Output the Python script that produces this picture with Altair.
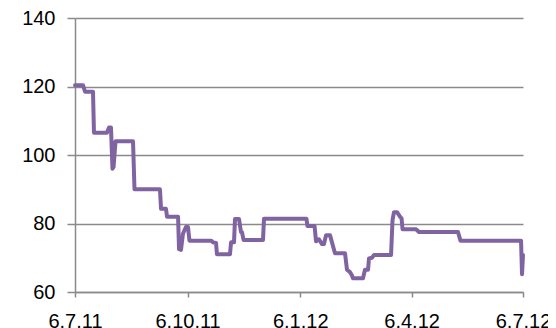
import altair as alt
import pandas as pd

# day offsets from 6.7.2011 and index values
days = [0, 6.5, 8.2, 14.7, 15.5, 26.1, 27.8, 29.4, 30.6, 31.5, 33.1, 47.4, 48.6,
        69.4, 70.3, 74.3, 75.2, 84.2, 85.0, 86.6, 88.2, 90.7, 92.3, 93.5,
        111.1, 112.7, 115.2, 116.0, 126.6, 127.5, 129.9, 130.7, 134.0, 135.6,
        136.4, 137.7, 153.6, 154.4, 189.1, 189.9, 195.7, 196.9, 199.3, 201.8,
        203.4, 205.1, 208.3, 212.4, 220.6, 222.2, 224.7, 226.3, 227.1, 235.3,
        236.9, 239.4, 240.2, 242.6, 244.3, 258.2, 259.4, 260.6, 263.1, 265.5,
        266.8, 267.6, 278.6, 281.0, 312.9, 314.9, 364.4, 365.2, 366.0]
values = [120.4, 120.4, 118.5, 118.5, 106.5, 106.5, 108.0, 108.0, 96.0, 96.5, 104.0, 104.0, 90.0,
          90.0, 84.3, 84.3, 82.0, 82.0, 72.5, 72.3, 77.0, 79.0, 79.0, 75.0,
          75.0, 74.5, 74.3, 71.0, 71.0, 74.5, 74.5, 81.3, 81.3, 77.5,
          77.5, 75.2, 75.2, 81.4, 81.4, 79.3, 79.3, 74.8, 75.4, 74.0,
          74.0, 76.6, 76.6, 71.3, 71.3, 66.5, 65.8, 64.8, 64.0, 64.0,
          66.5, 66.5, 69.8, 70.0, 70.8, 70.8, 81.0, 83.3, 83.3, 82.0,
          81.5, 78.3, 78.3, 77.5, 77.5, 75.0, 75.0, 65.2, 70.8]

tick_days = [0, 92, 184, 275, 366]
tick_labels = ["6.7.11", "6.10.11", "6.1.12", "6.4.12", "6.7.12"]
y_ticks = [60, 80, 100, 120, 140]

df = pd.DataFrame({"day": days, "value": values})

label_expr = "[" + ",".join(f"'{t}'" for t in tick_labels) + "][indexof([" + \
    ",".join(str(d) for d in tick_days) + "], datum.value)]"

grey = "#8a8a8a"
font = "Liberation Sans"

chart = alt.Chart(df).mark_line(
    color="#8064A2", strokeWidth=4, strokeJoin="round", strokeCap="round", clip=False
).encode(
    x=alt.X("day:Q", scale=alt.Scale(domain=[0, 366], nice=False, zero=False),
            axis=alt.Axis(values=tick_days, labelExpr=label_expr, title=None, grid=False,
                          domainColor=grey, domainWidth=1.5, tickColor=grey, tickWidth=1.5,
                          tickSize=5, labelPadding=14, labelFont=font, labelFontSize=20,
                          labelColor="#000000", labelFlush=False, labelOverlap=False)),
    y=alt.Y("value:Q", scale=alt.Scale(domain=[60, 140], nice=False, zero=False),
            axis=alt.Axis(values=y_ticks, title=None, grid=True, gridColor=grey, gridWidth=1.5,
                          domainColor=grey, domainWidth=1.5, tickColor=grey, tickWidth=1.5,
                          tickSize=8, labelPadding=12, labelFont=font, labelFontSize=20,
                          labelColor="#000000")),
).properties(
    width=448, height=274,
    autosize=alt.AutoSizeParams(type="none"),
    padding={"left": 67, "top": 10, "right": 25, "bottom": 44},
).configure_view(stroke=None)

chart.save("out.html", embed_options={"renderer": "svg", "actions": False})
